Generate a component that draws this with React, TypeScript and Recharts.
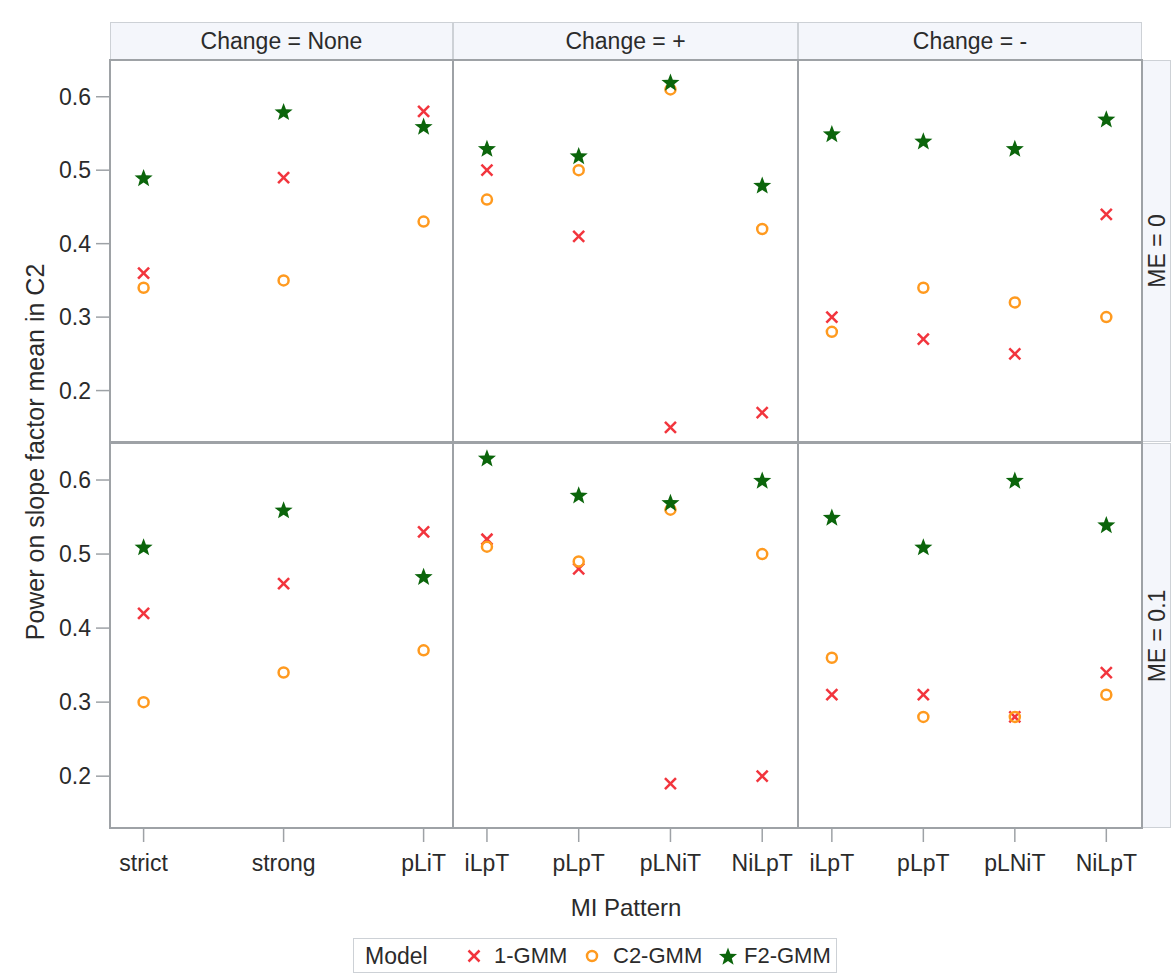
import React from 'react';
import { ScatterChart, Scatter, XAxis, YAxis } from 'recharts';

const changeLabels = ['None', '+', '-'];
const meLabels = ['0', '0.1'];
const patternsNone = ['strict', 'strong', 'pLiT'];
const patternsChange = ['iLpT', 'pLpT', 'pLNiT', 'NiLpT'];
const yTicks = [0.2, 0.3, 0.4, 0.5, 0.6];
const modelNames = ['1-GMM', 'C2-GMM', 'F2-GMM'];

// ME = 0
const gmm1Me0None = [0.36, 0.49, 0.58];
const gmm1Me0Plus = [0.5, 0.41, 0.15, 0.17];
const gmm1Me0Minus = [0.3, 0.27, 0.25, 0.44];
const c2Me0None = [0.34, 0.35, 0.43];
const c2Me0Plus = [0.46, 0.5, 0.61, 0.42];
const c2Me0Minus = [0.28, 0.34, 0.32, 0.3];
const f2Me0None = [0.49, 0.58, 0.56];
const f2Me0Plus = [0.53, 0.52, 0.62, 0.48];
const f2Me0Minus = [0.55, 0.54, 0.53, 0.57];

// ME = 0.1
const gmm1Me1None = [0.42, 0.46, 0.53];
const gmm1Me1Plus = [0.52, 0.48, 0.19, 0.2];
const gmm1Me1Minus = [0.31, 0.31, 0.28, 0.34];
const c2Me1None = [0.3, 0.34, 0.37];
const c2Me1Plus = [0.51, 0.49, 0.56, 0.5];
const c2Me1Minus = [0.36, 0.28, 0.28, 0.31];
const f2Me1None = [0.51, 0.56, 0.47];
const f2Me1Plus = [0.63, 0.58, 0.57, 0.6];
const f2Me1Minus = [0.55, 0.51, 0.6, 0.54];

const panelSeries = [
  [
    [gmm1Me0None, c2Me0None, f2Me0None],
    [gmm1Me0Plus, c2Me0Plus, f2Me0Plus],
    [gmm1Me0Minus, c2Me0Minus, f2Me0Minus],
  ],
  [
    [gmm1Me1None, c2Me1None, f2Me1None],
    [gmm1Me1Plus, c2Me1Plus, f2Me1Plus],
    [gmm1Me1Minus, c2Me1Minus, f2Me1Minus],
  ],
];

const FONT = '"Liberation Sans", Arial, sans-serif';
const TEXT = '#2b2b2b';
const RED = '#f2353d';
const ORANGE = '#ff9a1f';
const GREEN = '#0b650b';
const FRAME = '#9ea2a6';
const STRIP_BG = '#f4f6fb';
const STRIP_LINE = '#cdd1d6';

const colX = [110, 453, 798];
const colW = [343, 345, 344];
const rowY = [60, 443];
const rowH = [382, 385];
const X_AXIS_H = 60;
const Y_AXIS_W = 110;

function XMark(props: any) {
  const { cx, cy } = props;
  const s = 5.5;
  return (
    <g stroke={RED} strokeWidth={2.5}>
      <line x1={cx - s} y1={cy - s} x2={cx + s} y2={cy + s} />
      <line x1={cx - s} y1={cy + s} x2={cx + s} y2={cy - s} />
    </g>
  );
}

function OMark(props: any) {
  const { cx, cy } = props;
  return <circle cx={cx} cy={cy} r={5} fill="none" stroke={ORANGE} strokeWidth={2.5} />;
}

function starPath(cx: number, cy: number, R: number, r: number) {
  let d = '';
  for (let i = 0; i < 10; i++) {
    const a = -Math.PI / 2 + (i * Math.PI) / 5;
    const rad = i % 2 === 0 ? R : r;
    d += (i === 0 ? 'M' : 'L') + (cx + rad * Math.cos(a)).toFixed(2) + ',' + (cy + rad * Math.sin(a)).toFixed(2);
  }
  return d + 'Z';
}

function StarMark(props: any) {
  const { cx, cy } = props;
  return <path d={starPath(cx, cy + 1, 9.5, 4)} fill={GREEN} />;
}

const shapes = [XMark, OMark, StarMark];

function Panel({ row, col }: { row: number; col: number }) {
  const patterns = col === 0 ? patternsNone : patternsChange;
  const isLeft = col === 0;
  const isBottom = row === 1;
  const width = colW[col] + (isLeft ? Y_AXIS_W : 0);
  const height = rowH[row] + (isBottom ? X_AXIS_H : 0);
  const domainX = col === 0 ? [-0.24, 2.21] : [-0.37, 3.39];
  const toPoints = (vals: number[]) => vals.map((y, i) => ({ x: i, pattern: patterns[i], y }));
  const tickStyle = { fontSize: 23, fill: TEXT, fontFamily: FONT };

  return (
    <div style={{ position: 'absolute', left: colX[col] - (isLeft ? Y_AXIS_W : 0), top: rowY[row] }}>
      <ScatterChart width={width} height={height} margin={{ top: 0, right: 0, bottom: 0, left: 0 }}>
        <XAxis
          type="number"
          dataKey="x"
          domain={domainX}
          ticks={patterns.map((_, i) => i)}
          tickFormatter={(i: number) => patterns[i]}
          interval={0}
          hide={!isBottom}
          height={X_AXIS_H}
          axisLine={false}
          tickSize={14}
          tickMargin={13}
          tickLine={{ stroke: FRAME, strokeWidth: 1.5 }}
          tick={tickStyle}
          allowDataOverflow
        />
        <YAxis
          type="number"
          dataKey="y"
          domain={[0.13, 0.65]}
          ticks={yTicks}
          tickFormatter={(v: number) => v.toFixed(1)}
          hide={!isLeft}
          width={Y_AXIS_W}
          axisLine={false}
          tickSize={14}
          tickMargin={5}
          tickLine={{ stroke: FRAME, strokeWidth: 1.5 }}
          tick={tickStyle}
          allowDataOverflow
        />
        {panelSeries[row][col].map((vals, k) => (
          <Scatter key={modelNames[k]} name={modelNames[k]} data={toPoints(vals)} shape={shapes[k]} isAnimationActive={false} />
        ))}
      </ScatterChart>
    </div>
  );
}

function LegendIcon({ k }: { k: number }) {
  const Shape = shapes[k];
  return (
    <svg width={22} height={22} style={{ display: 'block' }}>
      <Shape cx={11} cy={11} />
    </svg>
  );
}

export default function App() {
  const cells: React.ReactNode[] = [];
  for (let r = 0; r < 2; r++) for (let c = 0; c < 3; c++) cells.push(<Panel key={`p${r}${c}`} row={r} col={c} />);

  return (
    <div style={{ position: 'absolute', left: 0, top: 0, width: 1171, height: 975, background: '#fff', fontFamily: FONT, color: TEXT }}>
      {/* column strips */}
      {changeLabels.map((lab, c) => (
        <div
          key={`s${c}`}
          style={{
            position: 'absolute', left: colX[c], top: 22, width: colW[c], height: 38, boxSizing: 'border-box',
            background: STRIP_BG, border: `1px solid ${STRIP_LINE}`, display: 'flex', alignItems: 'center',
            justifyContent: 'center', fontSize: 23, lineHeight: '23px', whiteSpace: 'nowrap',
          }}
        >
          {`Change = ${lab}`}
        </div>
      ))}
      {/* row strips */}
      {meLabels.map((lab, r) => (
        <div
          key={`m${r}`}
          style={{
            position: 'absolute', left: 1142, top: rowY[r], width: 29, height: rowH[r], boxSizing: 'border-box',
            background: STRIP_BG, border: `1px solid ${STRIP_LINE}`,
          }}
        >
          <div
            style={{
              position: 'absolute', left: '50%', top: '50%', transform: 'translate(-50%, -50%) rotate(-90deg)',
              whiteSpace: 'nowrap', fontSize: 23, lineHeight: '23px',
            }}
          >
            {`ME = ${lab}`}
          </div>
        </div>
      ))}

      {cells}

      {/* panel frames */}
      {[0, 1].map((r) =>
        [0, 1, 2].map((c) => (
          <div
            key={`f${r}${c}`}
            style={{
              position: 'absolute', left: colX[c] - 1, top: rowY[r] - 1, width: colW[c] + 2, height: rowH[r] + 2,
              boxSizing: 'border-box', border: `2.5px solid ${FRAME}`, pointerEvents: 'none',
            }}
          />
        ))
      )}

      {/* axis titles */}
      <div
        style={{
          position: 'absolute', left: 35, top: 452, transform: 'translate(-50%, -50%) rotate(-90deg)',
          whiteSpace: 'nowrap', fontSize: 25, lineHeight: '25px',
        }}
      >
        Power on slope factor mean in C2
      </div>
      <div
        style={{
          position: 'absolute', left: 626, top: 908, transform: 'translate(-50%, -50%)',
          whiteSpace: 'nowrap', fontSize: 24, lineHeight: '24px',
        }}
      >
        MI Pattern
      </div>

      {/* legend */}
      <div
        style={{
          position: 'absolute', left: 353, top: 938, width: 484, height: 35, boxSizing: 'border-box',
          border: `1px solid ${STRIP_LINE}`, fontSize: 22, lineHeight: '22px', whiteSpace: 'nowrap',
        }}
      >
        <span style={{ position: 'absolute', left: 11, top: 6, fontSize: 23 }}>Model</span>
        {modelNames.map((m, k) => {
          const iconX = [120, 238, 374][k];
          const gap = [20, 21, 16][k];
          return (
            <React.Fragment key={m}>
              <div style={{ position: 'absolute', left: iconX - 11, top: 6 }}>
                <LegendIcon k={k} />
              </div>
              <span style={{ position: 'absolute', left: iconX + gap, top: 6 }}>{m}</span>
            </React.Fragment>
          );
        })}
      </div>
    </div>
  );
}
